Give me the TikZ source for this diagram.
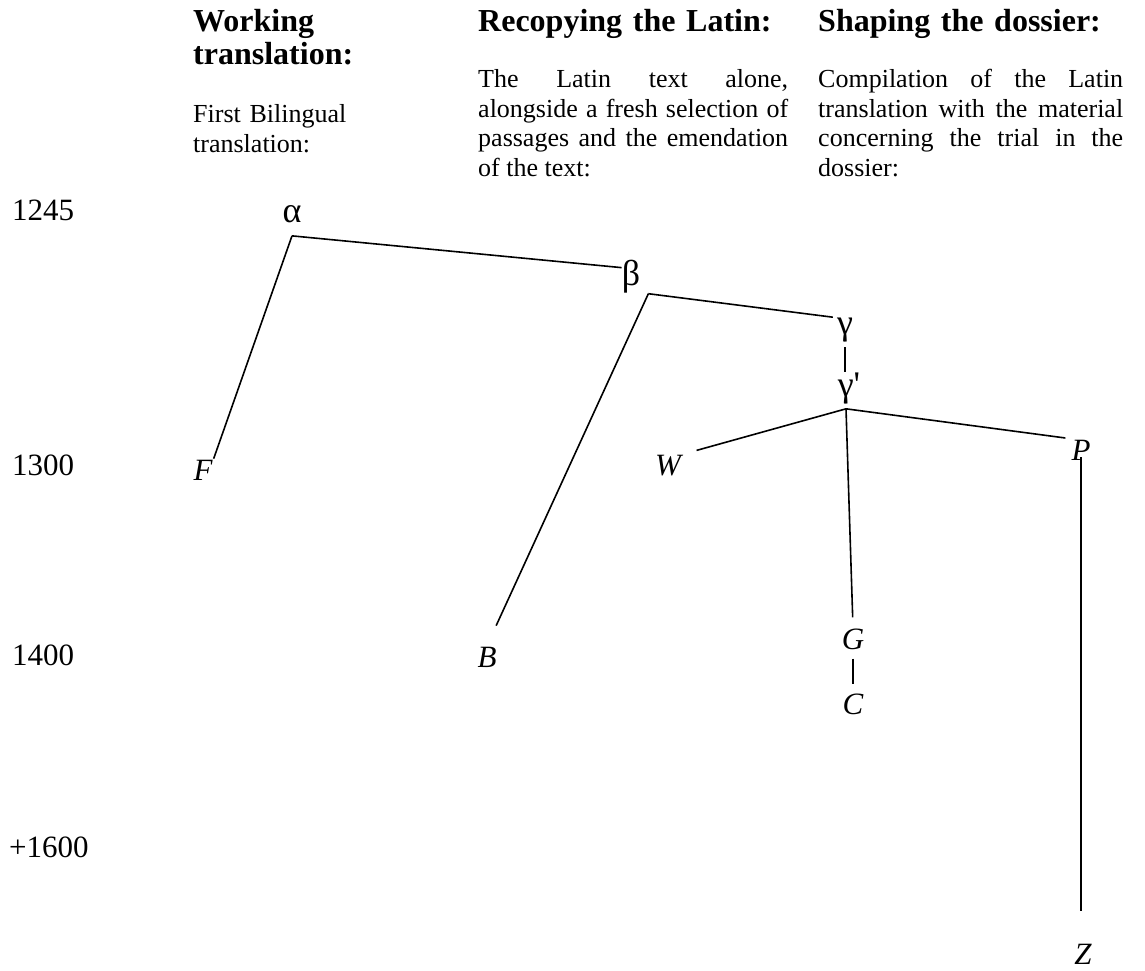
\documentclass[tikz,border=0pt]{standalone}
\usepackage{fontspec}
\setmainfont{Liberation Serif}
\usetikzlibrary{positioning}

\tikzset{
  head/.style={anchor=base west, inner sep=0pt, align=left,
    font=\fontsize{32}{33}\selectfont\bfseries},
  note/.style={anchor=base west, inner sep=0pt, align=justify,
    font=\fontsize{26}{29.5}\selectfont},
  year/.style={anchor=west, inner sep=0pt, font=\fontsize{31}{36}\selectfont},
  ms/.style={inner sep=1pt, font=\fontsize{31}{36}\selectfont\itshape},
  greek/.style={inner sep=0pt, font=\fontsize{36}{40}\selectfont},
  stem/.style={line width=1.6pt},
}
\hyphenpenalty=10000

\begin{document}
\begin{tikzpicture}[x=1pt, y=-1pt]
    \useasboundingbox (0,0) rectangle (1145,971);

    % 1. Column headings and notes
    \node[head, text width=255pt] (head1) at (193,32) {Working\\translation:};
    \node[head, text width=310pt] (head2) at (478,32) {Recopying the Latin:};
    \node[head, text width=305pt] (head3) at (818,32) {Shaping the dossier:};

    \node[note, text width=255pt, align=left] (note1) at (193,123)
        {First Bilingual\\translation:};
    \node[note, text width=310pt] (note2) at (478,88)
        {The Latin text alone,\linebreak alongside a fresh selection of\linebreak
         passages and the emendation\linebreak of the text:};
    \node[note, text width=305pt] (note3) at (818,88)
        {Compilation of the Latin\linebreak translation with the material\linebreak
         concerning the trial in the\linebreak dossier:};

    % 2. Dates on the left
    \node[year] (y1245) at (12,210) {1245};
    \node[year] (y1300) at (12,465) {1300};
    \node[year] (y1400) at (12,655) {1400};
    \node[year] (y1600) at (9,847) {+1600};

    % 3. Hyparchetypes and manuscripts
    \node[greek] (alpha)  at (292,214) {α};
    \node[greek] (beta)   at (631,277) {β};
    \node[greek] (gamma)  at (845,330) {γ};
    \node[greek] (gammap) at (849,389) {γ\textquotesingle};

    \node[ms] (F) at (203,470) {F};
    \node[ms] (B) at (487,657) {B};
    \node[ms] (W) at (668,466) {W};
    \node[ms] (G) at (853,639) {G};
    \node[ms] (C) at (853,704) {C};
    \node[ms] (P) at (1081,450) {P};
    \node[ms] (Z) at (1083,954) {Z};

    \coordinate[below=13pt of alpha] (alpha-fork);
    \coordinate[right=8pt of beta.south east] (beta-fork);
    \coordinate[below left=4pt and 3pt of gammap.south] (gp-fork);

    % 4. Stemma lines
    \draw[stem] (alpha-fork) -- (F.north east);
    \draw[stem] (alpha-fork) -- (beta.135);
    \draw[stem, shorten >=4pt] (beta-fork) -- (gamma.north west);
    \draw[stem, shorten >=22pt] (beta-fork) -- (B.north);
    \draw[stem, shorten <=5pt, shorten >=1pt] (gamma.south) -- (gamma.south |- gammap.north);
    \draw[stem, shorten >=15pt] (gp-fork) -- (W.north east);
    \draw[stem, shorten >=10pt] (gp-fork) -- (G.north);
    \draw[stem, shorten >=5pt] (gp-fork) -- (P.north west);
    \draw[stem, shorten <=8pt, shorten >=8pt] (G) -- (C);
    \draw[stem, shorten <=-4pt, shorten >=32pt] (P.south) -- (P.south |- Z.north);
\end{tikzpicture}
\end{document}
